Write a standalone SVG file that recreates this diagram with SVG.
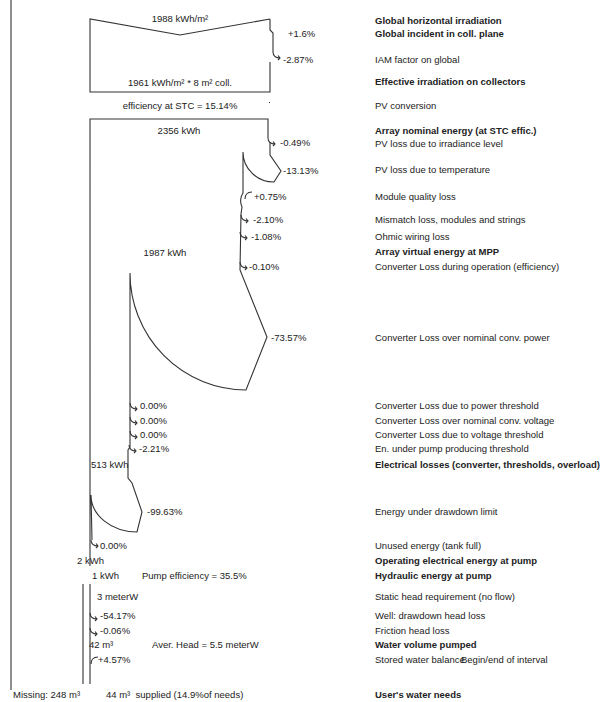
<svg xmlns="http://www.w3.org/2000/svg" xmlns:xlink="http://www.w3.org/1999/xlink" width="600" height="702" viewBox="0 0 600 702">
<style>
text{font-family:"Liberation Sans",Arial,sans-serif;font-size:9.5px;fill:#222}
.b{font-weight:bold}
.m{text-anchor:middle}
.ln{fill:none;stroke:#333;stroke-width:1.1}
</style>
<defs>
<path id="hook" class="ln" d="M0,-5 C0,-1 3,1 7,1 M5,-1.5 L7,1 L5,3"/>
<path id="gain" class="ln" d="M7,-4 C2,-4 0,-1 0,3"/>
</defs>
<rect width="600" height="702" fill="#fff"/>
<path class="ln" d="M11,0 L11,690"/>
<g id="connectors">
<path class="ln" d="M90,566 L90,119 L268,119 L268,138 M270,142 L270,155 L281,171 L274,182 A31,30 0 0 1 243,152 L243,193 C240,197 240,203 242,207 L241,214 L240,270 L267,337 L246,390 A116,117 0 0 1 130,273 L130,447 L128,450 L128,478 L132,483 L142,512 L137,532 A46,37 0 0 1 91,495 L92,540"/>
<path class="ln" d="M83,584 L83,684 M90,584 L90,684"/>
</g>
<g id="irradiation">
<path class="ln" d="M270,19 L180,35 L90,19 L90,92 L270,92 L270,62 M270,19 L270,30 L273,33 L273,52"/>
<use xlink:href="#hook" x="273" y="57"/>
<text class="m" x="180" y="22">1988 kWh/m²</text>
<text x="288" y="37">+1.6%</text>
<text x="283" y="63">-2.87%</text>
<text class="m" x="180" y="86">1961 kWh/m² * 8 m² coll.</text>
<text class="m" x="180" y="109">efficiency at STC = 15.14%</text>
<rect x="269" y="102" width="1" height="1" fill="#333"/>
</g>
<g id="array">
<use xlink:href="#hook" x="268" y="143"/>
<use xlink:href="#gain" x="245" y="196"/>
<use xlink:href="#hook" x="241" y="220"/>
<use xlink:href="#hook" x="240" y="237"/>
<use xlink:href="#hook" x="240" y="267"/>
<text class="m" x="179" y="134">2356 kWh</text>
<text x="280" y="146">-0.49%</text>
<text x="283" y="174">-13.13%</text>
<text x="254" y="200">+0.75%</text>
<text x="253" y="223">-2.10%</text>
<text x="251" y="240">-1.08%</text>
<text class="m" x="165" y="256">1987 kWh</text>
<text x="249" y="270">-0.10%</text>
</g>
<g id="converter">
<text x="271" y="341">-73.57%</text>
<use xlink:href="#hook" x="130" y="408"/>
<use xlink:href="#hook" x="130" y="422"/>
<use xlink:href="#hook" x="130" y="436"/>
<use xlink:href="#hook" x="129" y="450"/>
<text x="140" y="409">0.00%</text>
<text x="140" y="424">0.00%</text>
<text x="140" y="438">0.00%</text>
<text x="139" y="452">-2.21%</text>
<text x="91" y="468">513 kWh</text>
</g>
<g id="pump">
<text x="147" y="515">-99.63%</text>
<use xlink:href="#hook" x="91" y="545"/>
<text x="100" y="549">0.00%</text>
<text x="77" y="564">2 kWh</text>
<text x="92" y="579">1 kWh</text>
<text x="142" y="579">Pump efficiency = 35.5%</text>
</g>
<g id="water">
<text x="97" y="600">3 meterW</text>
<use xlink:href="#hook" x="90" y="618"/>
<use xlink:href="#hook" x="90" y="633"/>
<use xlink:href="#gain" x="91" y="661"/>
<text x="100" y="619">-54.17%</text>
<text x="100" y="634">-0.06%</text>
<text x="89" y="648">42 m³</text>
<text x="152" y="648">Aver. Head = 5.5 meterW</text>
<text x="98" y="663">+4.57%</text>
<text x="13" y="698">Missing: 248 m³</text>
<text x="106" y="698">44 m³&#160; supplied (14.9%of needs)</text>
</g>
<g id="labels">
<text class="b" x="375" y="24">Global horizontal irradiation</text>
<text class="b" x="375" y="37">Global incident in coll. plane</text>
<text x="375" y="63">IAM factor on global</text>
<text class="b" x="375" y="85">Effective irradiation on collectors</text>
<text x="375" y="109">PV conversion</text>
<text class="b" x="375" y="134">Array nominal energy (at STC effic.)</text>
<text x="375" y="147">PV loss due to irradiance level</text>
<text x="375" y="173">PV loss due to temperature</text>
<text x="375" y="200">Module quality loss</text>
<text x="375" y="223">Mismatch loss, modules and strings</text>
<text x="375" y="240">Ohmic wiring loss</text>
<text class="b" x="375" y="255">Array virtual energy at MPP</text>
<text x="375" y="270">Converter Loss during operation (efficiency)</text>
<text x="375" y="341">Converter Loss over nominal conv. power</text>
<text x="375" y="409">Converter Loss due to power threshold</text>
<text x="375" y="424">Converter Loss over nominal conv. voltage</text>
<text x="375" y="438">Converter Loss due to voltage threshold</text>
<text x="375" y="452">En. under pump producing threshold</text>
<text class="b" x="375" y="468">Electrical losses (converter, thresholds, overload)</text>
<text x="375" y="515">Energy under drawdown limit</text>
<text x="375" y="549">Unused energy (tank full)</text>
<text class="b" x="375" y="564">Operating electrical energy at pump</text>
<text class="b" x="375" y="579">Hydraulic energy at pump</text>
<text x="375" y="600">Static head requirement (no flow)</text>
<text x="375" y="619">Well: drawdown head loss</text>
<text x="375" y="634">Friction head loss</text>
<text class="b" x="375" y="648">Water volume pumped</text>
<text x="375" y="663">Stored water balance</text>
<text x="461" y="663">Begin/end of interval</text>
<text class="b" x="375" y="698">User's water needs</text>
</g>
</svg>
